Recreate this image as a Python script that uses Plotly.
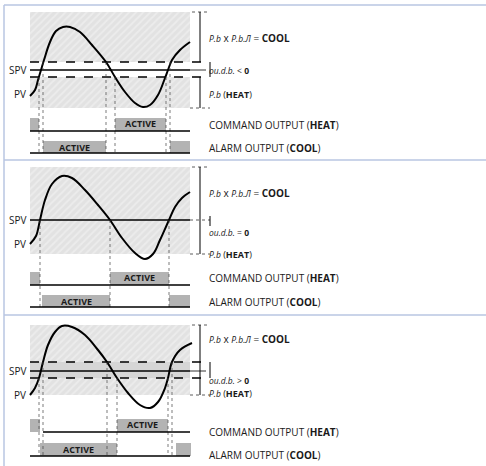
import plotly.graph_objects as go

W, H = 486, 466

# ── PV curve samples, one list per panel (y grows downward)
pv_x = [
    [30, 35, 38, 41, 44, 50, 56, 63, 70, 80, 92, 106, 115, 125, 135, 143, 150, 158, 165, 168, 172, 180, 190],
    [30, 36, 40, 45, 52, 62, 72, 85, 98, 110, 122, 135, 145, 153, 160, 169, 175, 182, 190],
    [30, 35, 39, 43, 48, 55, 62, 72, 85, 98, 107, 117, 128, 140, 150, 158, 165, 168, 172, 180, 192],
]
pv_y = [
    [96, 90, 80, 70, 60, 42, 31, 27, 27, 32, 45, 62, 77, 92, 103, 107, 105, 95, 78, 70, 60, 50, 42],
    [244, 236, 220, 200, 184, 176, 178, 190, 205, 220, 238, 253, 259, 254, 240, 220, 207, 198, 192],
    [395, 388, 378, 362, 345, 332, 326, 327, 335, 350, 362, 378, 393, 405, 408, 402, 388, 378, 362, 350, 343],
]

panel_top = [5, 160, 315]
spv_y = [70, 220, 371]
band = [(62, 77), None, (362, 378)]
hatch_top = [12, 167, 325]
hatch_bot = [108, 254, 395]
db_text = ["<", "=", ">"]

# crossings of the PV curve with the band / set point (x, y where the drop line starts)
cross = [
    [(39, 77), (43, 62), (106, 62), (115, 77), (166, 77), (170, 62)],
    [(40, 220), (110, 220), (169, 220)],
    [(39, 378), (43, 362), (107, 362), (117, 378), (168, 378), (172, 362)],
]
cmd_on = [[(30, 39), (115, 166)], [(30, 40), (110, 169)], [(30, 40), (117, 168)]]
cmd_active = [1, 1, 1]
alarm_on = [[(43, 106), (170, 190)], [(42, 110), (169, 190)], [(40, 117), (176, 191)]]
alarm_active = [0, 0, 0]
cmd_row = [(118, 131), (272, 285), (419, 432)]
cmd_line_x0 = [30, 30, 43]
alarm_row = [(141, 153), (295, 307), (443, 456)]

label_y = {
    "cool": [38, 193, 339],
    "db": [70, 232, 380],
    "heat": [94, 254, 393],
    "cmd": [125, 278, 432],
    "alarm": [148, 302, 455],
    "pv": [94, 244, 395],
}

GREY = "#b3b3b3"
BORDER = "#b9c6e2"
TXT = "#1a1a1a"
FONT = "Open Sans, Arial, sans-serif"

fig = go.Figure()
shapes, notes = [], []


def line(x0, y0, x1, y1, w=1.5, color="black", dash="solid"):
    shapes.append(dict(type="line", x0=x0, y0=y0, x1=x1, y1=y1, layer="above",
                       line=dict(color=color, width=w, dash=dash)))


def rect(x0, y0, x1, y1, fill):
    shapes.append(dict(type="rect", x0=x0, y0=y0, x1=x1, y1=y1, layer="below",
                       fillcolor=fill, line=dict(width=0)))


def text(x, y, s, anchor="left", size=10, bold=False):
    notes.append(dict(x=x, y=y, text=f"<b>{s}</b>" if bold else s, showarrow=False,
                      xanchor=anchor, yanchor="middle",
                      font=dict(family=FONT, size=size, color=TXT)))


def hatch(x0, y0, x1, y1):
    fig.add_trace(go.Scatter(
        x=[x0, x1, x1, x0, x0], y=[y0, y0, y1, y1, y0], mode="lines",
        fill="toself", line=dict(width=0), fillcolor="#e4e4e4",
        fillpattern=dict(shape="/", fgcolor="#f6f6f6", bgcolor="#e2e2e2", size=5, solidity=0.35),
        hoverinfo="skip", showlegend=False))


def small(s):
    return f"<span style='font-size:8.5px'><i>{s}</i></span>"


# ── table borders
line(4, 5, W, 5, 1.5, BORDER)
line(4, 160, W, 160, 1.5, BORDER)
line(4, 315, W, 315, 1.5, BORDER)
line(4, 5, 4, H, 1.5, BORDER)

for p in range(3):
    # hatched proportional band
    if band[p]:
        hatch(30, hatch_top[p], 190, band[p][0])
        hatch(30, band[p][1], 190, hatch_bot[p])
        if p == 2:
            rect(30, band[p][0], 190, band[p][1], "#d6d6d6")
    else:
        hatch(30, hatch_top[p], 190, hatch_bot[p])

    # set point and dead band
    line(30, spv_y[p], 190, spv_y[p], 1.6)
    if band[p]:
        for yb in band[p]:
            line(30, yb, 210, yb, 1.5, dash="dash")
        line(190, spv_y[p], 206, spv_y[p], 0.8)
        line(210, band[p][0], 210, band[p][1], 1.0)
    else:
        line(190, spv_y[p], 210, spv_y[p], 0.8, "#333", "dot")
        line(210, spv_y[p] - 4, 210, spv_y[p] + 6, 1.0)

    # right bracket
    line(192, hatch_top[p], 210, hatch_top[p], 0.8, "#333", "dot")
    line(190, hatch_bot[p], 210, hatch_bot[p], 0.8, "#333", "dot")
    if band[p] and p == 0:
        line(200, hatch_top[p], 200, band[p][0], 1.0)
        line(200, band[p][1], 200, hatch_bot[p], 1.0)
    else:
        line(200, hatch_top[p], 200, hatch_bot[p], 1.0)

    # drop lines at the crossings
    for cx, cy in cross[p]:
        line(cx, cy, cx, alarm_row[p][1], 0.7, "#444", "dot")

    # command output (HEAT)
    for i, (a, b) in enumerate(cmd_on[p]):
        rect(a, cmd_row[p][0], b, cmd_row[p][1], GREY)
        if i == cmd_active[p]:
            text((a + b) / 2, (cmd_row[p][0] + cmd_row[p][1]) / 2 - 1, "ACTIVE", "center", 9, True)
    line(cmd_line_x0[p], cmd_row[p][1], 190, cmd_row[p][1], 1.5)

    # alarm output (COOL)
    for i, (a, b) in enumerate(alarm_on[p]):
        rect(a, alarm_row[p][0], b, alarm_row[p][1], GREY)
        if i == alarm_active[p]:
            text((a + b) / 2, (alarm_row[p][0] + alarm_row[p][1]) / 2, "ACTIVE", "center", 9, True)
    line(30, alarm_row[p][1], 190, alarm_row[p][1], 1.5)

    # PV curve
    fig.add_trace(go.Scatter(x=pv_x[p], y=pv_y[p], mode="lines",
                             line=dict(color="black", width=2, shape="spline", smoothing=1.0),
                             hoverinfo="skip", showlegend=False))

    # labels
    text(28, spv_y[p], "SPV", "right")
    text(28, label_y["pv"][p], "PV", "right")
    text(207, label_y["cool"][p], f"{small('P.b')} x {small('P.b.Л')} = <b>COOL</b>")
    text(207, label_y["db"][p], f"{small('ou.d.b.')} {db_text[p]} <b>0</b>", size=8.5)
    text(207, label_y["heat"][p], f"{small('P.b')} (<b>HEAT</b>)", size=9)
    text(207, label_y["cmd"][p], "COMMAND OUTPUT (<b>HEAT</b>)")
    text(207, label_y["alarm"][p], "ALARM OUTPUT (<b>COOL</b>)")

fig.update_layout(
    width=W, height=H, autosize=False,
    margin=dict(l=0, r=0, t=0, b=0),
    paper_bgcolor="white", plot_bgcolor="white",
    xaxis=dict(range=[0, W], visible=False, fixedrange=True),
    yaxis=dict(range=[H, 0], visible=False, fixedrange=True),
    shapes=shapes, annotations=notes,
)
# page body margin would push the 486x466 drawing off the window
fig.write_html("out.html", config={"displayModeBar": False},
               post_script="document.body.style.margin='0';")
